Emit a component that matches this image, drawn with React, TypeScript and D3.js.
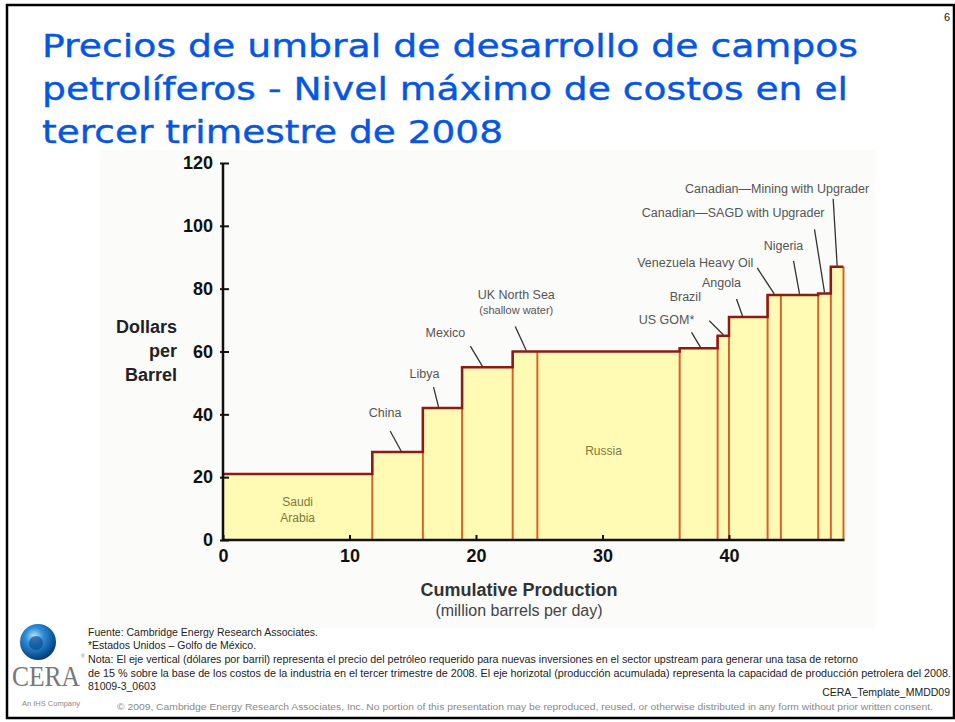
import React from "react";
import * as d3 from "d3";

// producers along the cost curve, left to right
const producers = [
  "Saudi Arabia",
  "China",
  "Libya",
  "Mexico",
  "UK North Sea",
  "Russia",
  "US GOM*",
  "Brazil",
  "Angola",
  "Venezuela Heavy Oil",
  "Nigeria",
  "Canadian—SAGD with Upgrader",
  "Canadian—Mining with Upgrader",
];
// capacity, million barrels per day
const capacity = [11.8, 4.0, 3.1, 4.0, 1.95, 11.25, 3.0, 0.9, 3.05, 1.05, 2.95, 1.0, 1.0];
// breakeven price, dollars per barrel
const prices = [21, 28, 42, 55, 60, 60, 61, 65, 71, 78, 78, 78.5, 87];

const yTicks = [0, 20, 40, 60, 80, 100, 120];
const xTicks = [0, 10, 20, 30, 40];

const titleLines = [
  "Precios de umbral de desarrollo de campos",
  "petrolíferos - Nivel máximo de costos en el",
  "tercer trimestre de 2008",
];

const footnotes = [
  "Fuente: Cambridge Energy Research Associates.",
  "*Estados Unidos – Golfo de México.",
  "Nota: El eje vertical (dólares por barril) representa el precio del petróleo requerido para nuevas inversiones en el sector upstream para generar una tasa de retorno",
  "de 15 % sobre la  base de los costos de la industria en el tercer trimestre de 2008. El eje horizotal (producción acumulada) representa la capacidad de producción petrolera del 2008.",
  "81009-3_0603",
];
const copyright =
  "© 2009, Cambridge Energy Research Associates, Inc. No portion of this presentation may be reproduced, reused, or otherwise distributed in any form without prior written consent.";

// callout layout: index of producer, where the leader touches the bar (fraction of width),
// leader offset and label offset (px, relative to touch point)
const callouts = [
  { i: 1, at: 0.57, dx: -11, dy: -20, tx: -16, ty: -34, anchor: "middle" },
  { i: 2, at: 0.4, dx: -5, dy: -20, tx: -14, ty: -29, anchor: "middle" },
  { i: 3, at: 0.4, dx: -12, dy: -20, tx: -37, ty: -29, anchor: "middle" },
  { i: 4, at: 0.55, dx: -11, dy: -24, tx: -10, ty: -52, anchor: "middle" },
  { i: 6, at: 0.55, dx: -9, dy: -15, tx: -34, ty: -23, anchor: "middle" },
  { i: 7, at: 0.5, dx: -14, dy: -14, tx: -38, ty: -34, anchor: "middle" },
  { i: 8, at: 0.35, dx: -6, dy: -17, tx: -21, ty: -29, anchor: "middle" },
  { i: 9, at: 0.5, dx: -17, dy: -26, tx: -21, ty: -27, anchor: "end" },
  { i: 10, at: 0.5, dx: -6, dy: -33, tx: -16, ty: -44, anchor: "middle" },
  { i: 11, at: 0.5, dx: -10, dy: -63, tx: 0, ty: -75, anchor: "end" },
  { i: 12, at: 0.5, dx: -4, dy: -67, tx: 32, ty: -73, anchor: "end" },
];

const x = d3.scaleLinear().domain([0, 40]).range([223, 729]);
const y = d3.scaleLinear().domain([0, 120]).range([540, 163]);

const ends = d3.cumsum(capacity);
const starts = ends.map((e, i) => e - capacity[i]);

const sans = "'Liberation Sans', Arial, sans-serif";
const narrow = "'Liberation Sans Narrow', 'Liberation Sans', Arial, sans-serif";

function App() {
  const yAxisRef = React.useRef<SVGGElement>(null);
  const xAxisRef = React.useRef<SVGGElement>(null);

  React.useEffect(() => {
    const ya = d3.select(yAxisRef.current);
    ya.call(d3.axisLeft(y).tickValues(yTicks).tickSizeInner(-6).tickSizeOuter(0).tickPadding(10));
    ya.select(".domain").remove();
    ya.selectAll("line").attr("stroke", "#111").attr("stroke-width", 2).attr("x1", -3);
    ya.selectAll("text")
      .attr("font-family", sans)
      .attr("font-weight", "bold")
      .attr("font-size", 18)
      .attr("fill", "#111");

    const xa = d3.select(xAxisRef.current);
    xa.call(d3.axisBottom(x).tickValues(xTicks).tickSizeInner(-5).tickSizeOuter(0).tickPadding(9));
    xa.select(".domain").remove();
    xa.selectAll("line").attr("stroke", "#111").attr("stroke-width", 2);
    xa.selectAll("text")
      .attr("font-family", sans)
      .attr("font-weight", "bold")
      .attr("font-size", 18)
      .attr("fill", "#111");
  }, []);

  // step outline along the tops
  const outline = d3
    .line<[number, number]>()
    .x((d) => x(d[0]))
    .y((d) => y(d[1]))(
    prices.flatMap((p, i) => [
      [starts[i], p],
      [ends[i], p],
    ]) as [number, number][]
  );

  const total = ends[ends.length - 1];

  return (
    <svg width={955} height={722} style={{ position: "absolute", left: 0, top: 0 }}>
      <rect x={0} y={0} width={955} height={722} fill="#fff" />
      <rect x={7} y={5} width={947} height={713} fill="none" stroke="#000" strokeWidth={2.5} />

      <text x={944} y={21} fontFamily={sans} fontSize={11} fill="#111">6</text>

      {titleLines.map((t, i) => (
        <text
          key={i}
          x={42}
          y={57 + i * 43}
          fontFamily="'DejaVu Sans', Verdana, sans-serif"
          fontSize={32}
          fill="#0656E4"
          stroke="#0656E4"
          strokeWidth={0.4}
          textLength={[816, 806, 461][i]}
          lengthAdjust="spacingAndGlyphs"
        >
          {t}
        </text>
      ))}

      {/* chart picture backdrop */}
      <rect x={100} y={150} width={775} height={478} fill="#fbfbf9" />

      {/* bars */}
      {prices.map((p, i) => (
        <rect
          key={producers[i]}
          x={x(starts[i])}
          y={y(p)}
          width={x(ends[i]) - x(starts[i])}
          height={y(0) - y(p)}
          fill="#FFFBB4"
        />
      ))}
      {prices.map((p, i) => (
        <line
          key={"v" + i}
          x1={x(ends[i])}
          x2={x(ends[i])}
          y1={y(0)}
          y2={y(i < prices.length - 1 ? Math.max(p, prices[i + 1]) : p)}
          stroke="#D9622B"
          strokeWidth={2}
        />
      ))}
      <path d={outline ?? ""} fill="none" stroke="#8E1A12" strokeWidth={2.5} strokeLinejoin="miter" />

      {/* axes */}
      <line x1={x(0)} x2={x(0)} y1={y(0) + 1} y2={y(120)} stroke="#111" strokeWidth={2.5} />
      <line x1={x(0) - 1} x2={x(total) + 1} y1={y(0)} y2={y(0)} stroke="#111" strokeWidth={2.5} />
      <g ref={yAxisRef} transform={`translate(${x(0)},0)`} />
      <g ref={xAxisRef} transform={`translate(0,${y(0)})`} />

      {/* axis titles */}
      <g fontFamily={sans} fontWeight="bold" fontSize={18} fill="#222" textAnchor="end">
        <text x={177} y={333}>Dollars</text>
        <text x={177} y={357}>per</text>
        <text x={177} y={381}>Barrel</text>
      </g>
      <text x={519} y={596} fontFamily={sans} fontWeight="bold" fontSize={18} fill="#333" textAnchor="middle">
        Cumulative Production
      </text>
      <text x={519} y={616} fontFamily={sans} fontSize={16} fill="#444" textAnchor="middle">
        (million barrels per day)
      </text>

      {/* in-bar labels */}
      <g fontFamily={sans} fontSize={12} fill="#7A7A3C" textAnchor="middle">
        <text x={(x(starts[0]) + x(ends[0])) / 2} y={y(0) - 34}>Saudi</text>
        <text x={(x(starts[0]) + x(ends[0])) / 2} y={y(0) - 18}>Arabia</text>
        <text x={(x(starts[5]) + x(ends[5])) / 2 - 5} y={y(27)}>Russia</text>
      </g>

      {/* callouts */}
      <g fontFamily={sans} fontSize={12.5} fill="#555">
        {callouts.map((c) => {
          const px = x(starts[c.i] + capacity[c.i] * c.at);
          const py = y(prices[c.i]) - 1;
          const name = producers[c.i];
          return (
            <g key={name}>
              <line x1={px} y1={py} x2={px + c.dx} y2={py + c.dy} stroke="#333" strokeWidth={1.3} />
              {name === "UK North Sea" ? (
                <>
                  <text x={px + c.tx} y={py + c.ty} textAnchor="middle">{name}</text>
                  <text x={px + c.tx} y={py + c.ty + 15} textAnchor="middle" fontSize={11}>(shallow water)</text>
                </>
              ) : (
                <text x={px + c.tx} y={py + c.ty} textAnchor={c.anchor}>{name}</text>
              )}
            </g>
          );
        })}
      </g>

      {/* logo */}
      <defs>
        <radialGradient id="orb" cx="0.4" cy="0.35" r="0.7">
          <stop offset="0" stopColor="#bfe6ff" />
          <stop offset="0.35" stopColor="#2f8fd8" />
          <stop offset="0.8" stopColor="#0b4f96" />
          <stop offset="1" stopColor="#06325f" />
        </radialGradient>
      </defs>
      <circle cx={38} cy={642} r={18} fill="url(#orb)" />
      <circle cx={36} cy={643} r={7} fill="#0a4c8c" opacity={0.7} />
      <text x={12} y={686} fontFamily="'Liberation Serif', 'Times New Roman', serif" fontSize={29} fill="#777" textLength={68} lengthAdjust="spacingAndGlyphs">
        CERA
      </text>
      <text x={81} y={658} fontFamily={sans} fontSize={5} fill="#777">®</text>
      <text x={22} y={706} fontFamily={sans} fontSize={7.5} fill="#888">An IHS Company</text>

      {/* footnotes */}
      <g fontFamily={narrow} fontSize={10.5} fill="#222">
        {footnotes.map((f, i) => (
          <text
            key={i}
            x={88}
            y={[636, 649, 663, 677, 690][i]}
            textLength={i === 2 ? 770 : i === 3 ? 863 : undefined}
            lengthAdjust="spacingAndGlyphs"
          >
            {f}
          </text>
        ))}
      </g>
      <text x={950} y={696} fontFamily={narrow} fontSize={10.5} fill="#222" textAnchor="end">
        CERA_Template_MMDD09
      </text>
      <text x={117} y={710} fontFamily={narrow} fontSize={8.5} fill="#888" textLength={816} lengthAdjust="spacingAndGlyphs">
        {copyright}
      </text>
    </svg>
  );
}

export default App;
